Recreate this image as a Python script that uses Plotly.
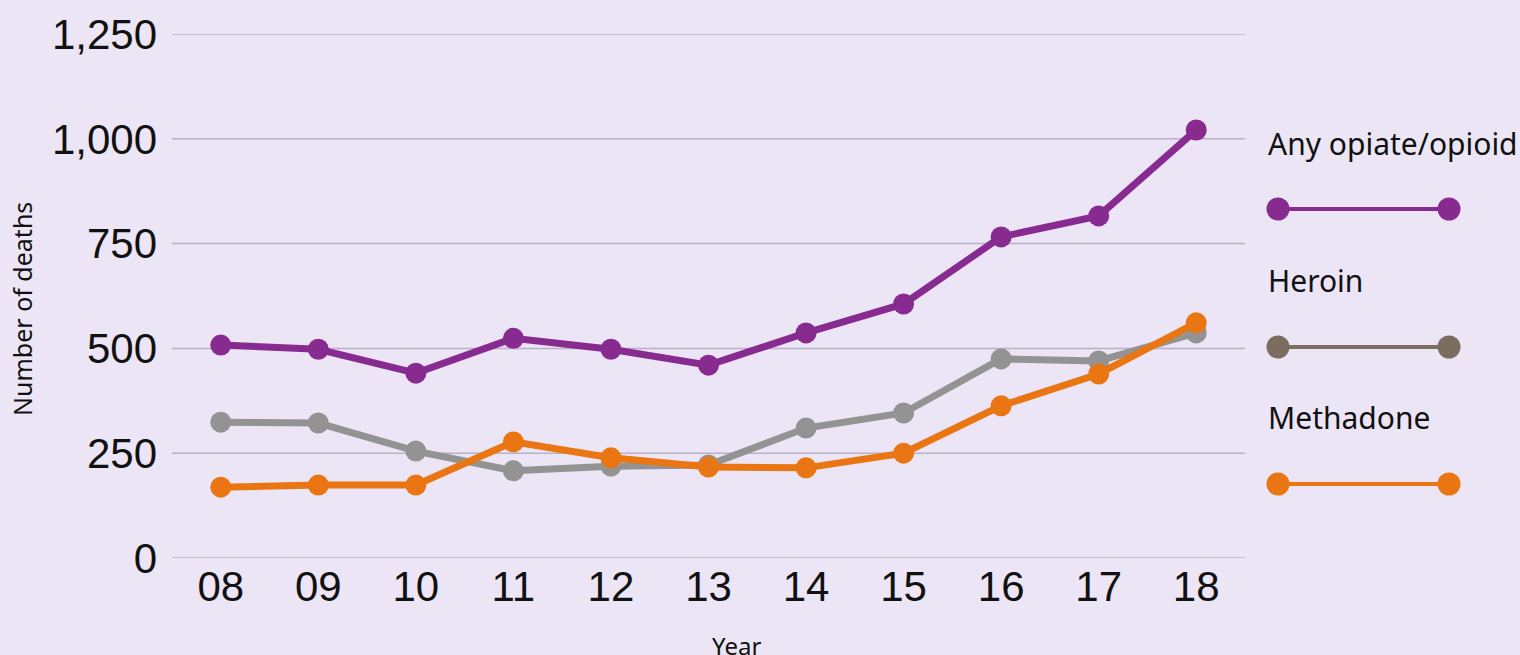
import plotly.graph_objects as go

years = ["08", "09", "10", "11", "12", "13", "14", "15", "16", "17", "18"]
any_opioid = [508, 498, 441, 524, 498, 460, 537, 606, 766, 816, 1021]
heroin = [324, 322, 255, 208, 219, 222, 310, 346, 475, 470, 537]
methadone = [169, 174, 174, 277, 239, 217, 215, 250, 363, 439, 561]
y_ticks = [0, 250, 500, 750, 1000, 1250]

series_names = ["Any opiate/opioid", "Heroin", "Methadone"]
line_colors = ["#872b90", "#939393", "#e97612"]
legend_colors = ["#872b90", "#7b6e60", "#e97612"]

BG = "#ece5f5"
GRID = "#b9b1c6"
W, H = 1520, 655
plot_left, plot_right, plot_top, plot_bottom = 172, 1245, 34, 558

fig = go.Figure()

# horizontal gridlines at every y tick (including both range edges)
for v in y_ticks:
    fig.add_shape(type="line", xref="x domain", yref="y", x0=0, x1=1, y0=v, y1=v,
                  line=dict(color=GRID, width=1.5), layer="below")

for name, vals, col in zip(series_names, [any_opioid, heroin, methadone], line_colors):
    fig.add_trace(go.Scatter(
        x=years, y=vals, mode="lines+markers", name=name,
        line=dict(color=col, width=7),
        marker=dict(color=col, size=21),
        showlegend=False, xaxis="x", yaxis="y", cliponaxis=False,
    ))

# custom legend drawn on a hidden pixel-scaled axis pair
leg_text_y = [143, 280, 417]
leg_line_y = [209, 347, 484]
for name, col, ty, ly in zip(series_names, legend_colors, leg_text_y, leg_line_y):
    fig.add_trace(go.Scatter(
        x=[1278, 1449], y=[ly, ly], mode="lines+markers",
        line=dict(color=col, width=4), marker=dict(color=col, size=23),
        showlegend=False, xaxis="x2", yaxis="y2", hoverinfo="skip",
    ))
    fig.add_annotation(x=1266, y=ty, xref="x2", yref="y2", text=name,
                       showarrow=False, xanchor="left", yanchor="middle",
                       font=dict(family="Noto Sans", size=30, color="#111111"))

fig.add_annotation(x=22, y=309, xref="x2", yref="y2",
                   text="Number of deaths", textangle=-90, showarrow=False,
                   font=dict(family="Noto Sans", size=25, color="#111111"))
fig.add_annotation(x=736, y=645, xref="x2", yref="y2", text="Year",
                   showarrow=False,
                   font=dict(family="Noto Sans", size=24, color="#111111"))

fig.update_layout(
    width=W, height=H, autosize=False,
    margin=dict(l=0, r=0, t=0, b=0, pad=0, autoexpand=False),
    paper_bgcolor=BG, plot_bgcolor="rgba(0,0,0,0)",
    xaxis=dict(domain=[plot_left / W, plot_right / W], type="category",
               range=[-0.5, 10.5], anchor="y", automargin=False,
               showgrid=False, zeroline=False, showline=False,
               tickfont=dict(family="Liberation Sans", size=42, color="#111111"),
               ticks="", ticklabelstandoff=0),
    yaxis=dict(domain=[1 - plot_bottom / H, 1 - plot_top / H], anchor="x",
               range=[0, 1250], tickvals=y_ticks, tickformat=",",
               automargin=False, showgrid=False,
               zeroline=False, showline=False,
               tickfont=dict(family="Liberation Sans", size=42, color="#111111"),
               ticks="", ticklabelstandoff=14),
    xaxis2=dict(domain=[0, 1], range=[0, W], visible=False, automargin=False,
                fixedrange=True, anchor="y2"),
    yaxis2=dict(domain=[0, 1], range=[H, 0], automargin=False,
                visible=False, fixedrange=True, anchor="x2"),
)

fig.write_html("out.html", config={"displayModeBar": False},
               post_script="document.body.style.margin='0';")
